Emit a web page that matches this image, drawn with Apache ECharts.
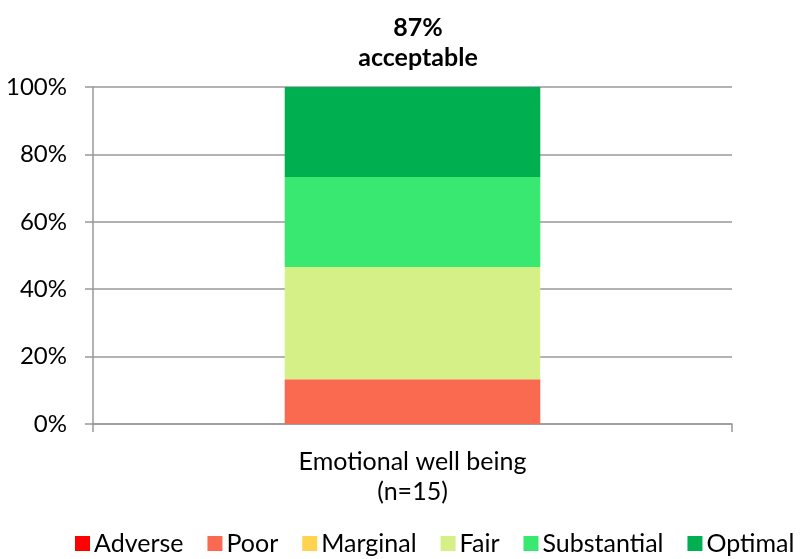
<!DOCTYPE html>
<html>
<head>
<meta charset="utf-8">
<script src="https://cdn.jsdelivr.net/npm/echarts@6/dist/echarts.min.js"></script>
<style>
    html, body { margin: 0; padding: 0; background: #fff; }
    #main { width: 800px; height: 559px; }
</style>
</head>
<body>
<div id="main"></div>
<script>
    var categories = ['Emotional well being\n(n=15)'];
    var seriesNames = ['Adverse', 'Poor', 'Marginal', 'Fair', 'Substantial', 'Optimal'];
    var seriesColors = ['#ff0000', '#f96a50', '#ffd34f', '#d4f086', '#38e870', '#00b050'];
    var adverse = [0];
    var poor = [13.3];
    var marginal = [0];
    var fair = [33.3];
    var substantial = [26.7];
    var optimal = [26.7];
    var yTicks = [0, 20, 40, 60, 80, 100];
    var titleText = '87%\nacceptable';

    var values = [adverse, poor, marginal, fair, substantial, optimal];
    var fontFam = 'Lato, "Open Sans", sans-serif';

    var series = seriesNames.map(function (name, i) {
        return {
            name: name,
            type: 'bar',
            stack: 'total',
            barWidth: '40%',
            itemStyle: { color: seriesColors[i] },
            data: values[i]
        };
    });

    var myChart = echarts.init(document.getElementById('main'));
    var option = {
        animation: false,
        title: {
            text: titleText,
            left: 413,
            textAlign: 'center',
            top: 8,
            textStyle: {
                fontFamily: fontFam,
                fontSize: 25,
                fontWeight: 'bold',
                color: '#000',
                lineHeight: 30
            }
        },
        legend: {
            data: seriesNames,
            top: 526,
            left: 70,
            itemWidth: 15,
            itemHeight: 15,
            itemGap: 24,
            icon: 'rect',
            textStyle: { fontFamily: fontFam, fontSize: 25, color: '#000', padding: [0, 0, 0, -1] }
        },
        grid: { left: 93, right: 68, top: 87, bottom: 135 },
        xAxis: {
            type: 'category',
            data: categories,
            axisLine: { lineStyle: { color: '#999', width: 1.5 } },
            axisTick: { show: true, length: 8, lineStyle: { color: '#999', width: 1.5 } },
            axisLabel: {
                fontFamily: fontFam,
                fontSize: 25,
                color: '#000',
                lineHeight: 30,
                margin: 23
            }
        },
        yAxis: {
            type: 'value',
            min: 0,
            max: 100,
            interval: 20,
            axisLine: { show: true, lineStyle: { color: '#999', width: 1.5 } },
            axisTick: { show: true, length: 8, lineStyle: { color: '#999', width: 1.5 } },
            splitLine: { lineStyle: { color: '#999', width: 1.5 } },
            axisLabel: {
                fontFamily: fontFam,
                fontSize: 24,
                color: '#000',
                margin: 26,
                formatter: function (v) { return yTicks.indexOf(v) >= 0 ? v + '%' : ''; }
            }
        },
        series: series
    };
    myChart.setOption(option);
</script>
</body>
</html>
